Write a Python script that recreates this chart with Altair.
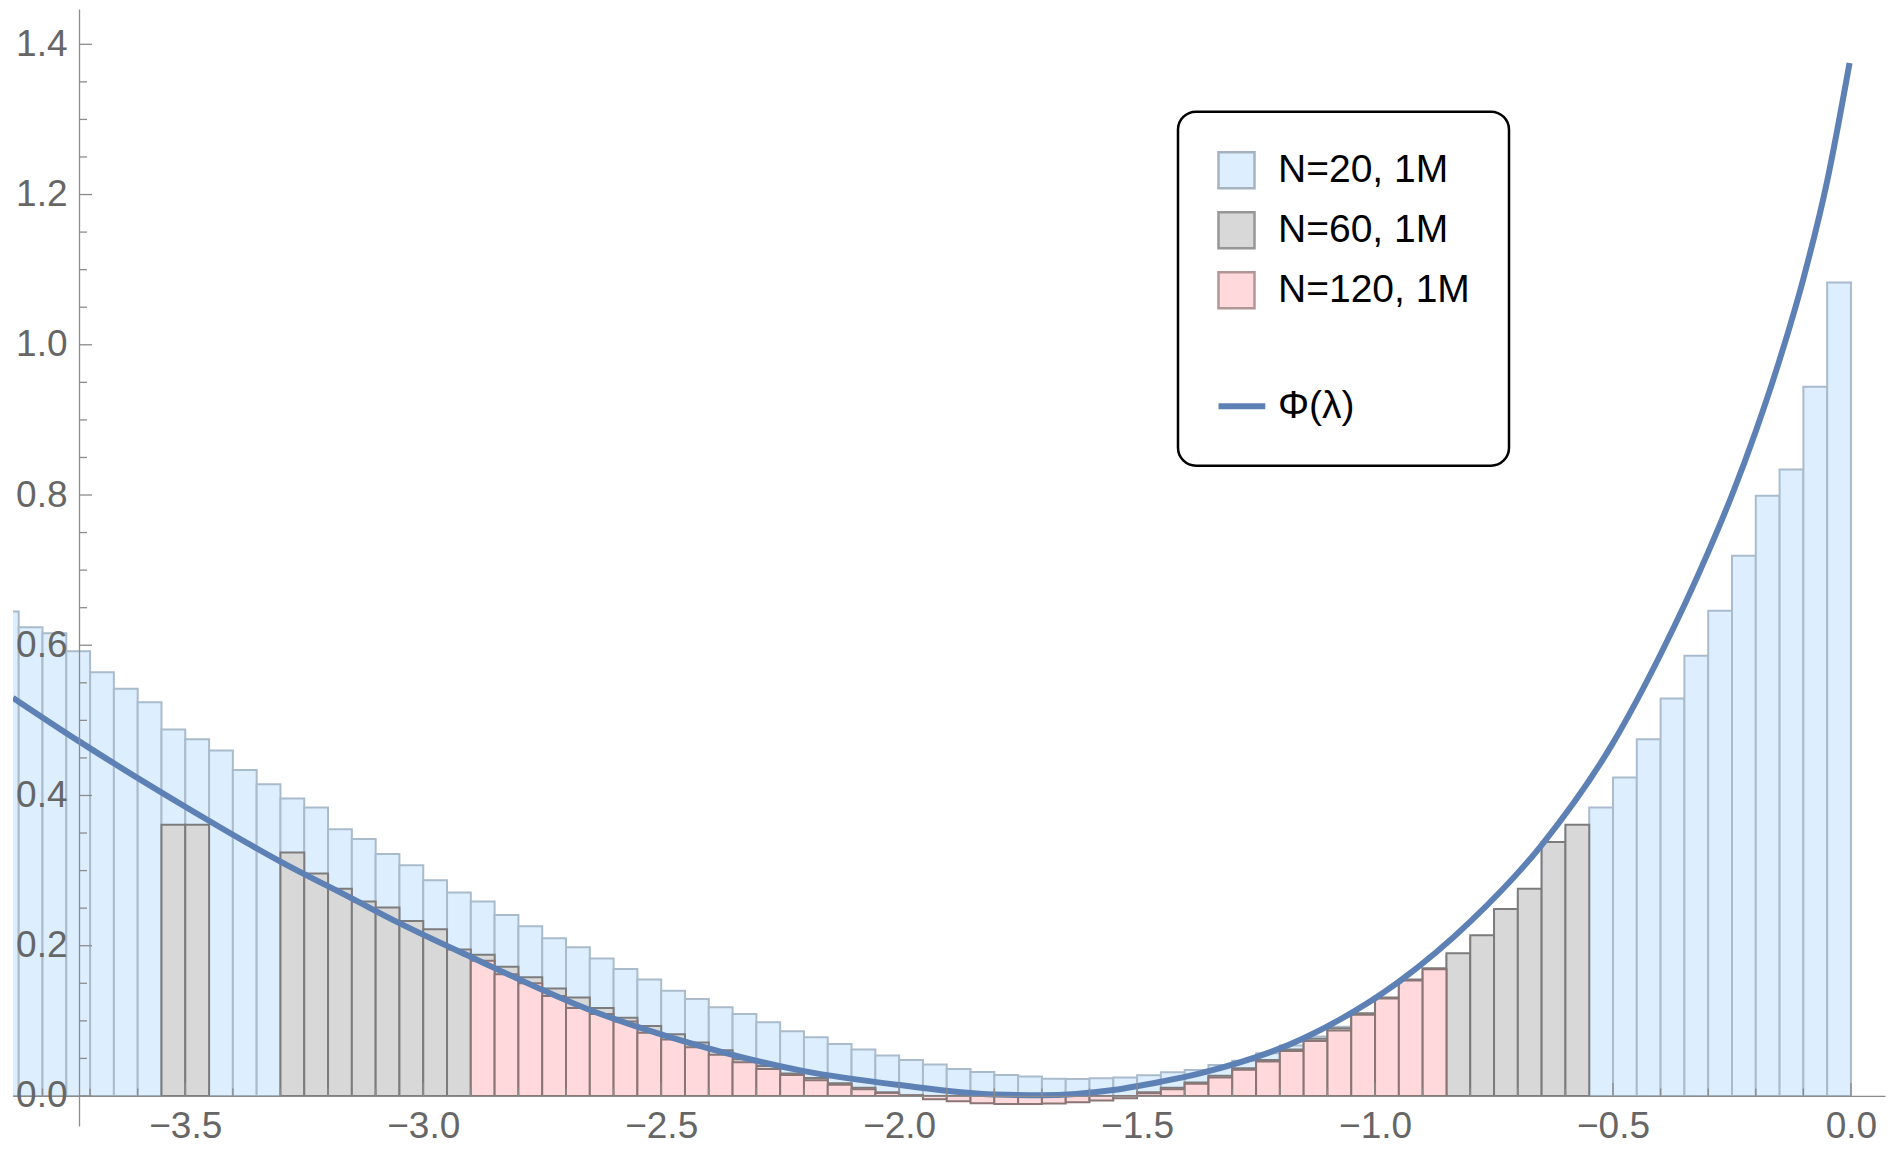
import altair as alt
import pandas as pd

FONT = "Liberation Sans"

# ---- histogram data (bin width 0.05, first bin starts at -3.90) ----
BIN_START = -3.90
BIN_W = 0.05

blue_vals = [0.645, 0.624, 0.616, 0.592, 0.564, 0.542, 0.524, 0.488, 0.475, 0.460,
             0.434, 0.415, 0.396, 0.384, 0.355, 0.342, 0.322, 0.307, 0.287, 0.271,
             0.259, 0.241, 0.226, 0.210, 0.198, 0.183, 0.169, 0.155, 0.140, 0.129,
             0.118, 0.109, 0.098, 0.086, 0.078, 0.069, 0.062, 0.054, 0.048, 0.042,
             0.036, 0.032, 0.028, 0.026, 0.023, 0.0226, 0.0235, 0.0244, 0.0275, 0.0315,
             0.0346, 0.0413, 0.047, 0.057, 0.067, 0.079, 0.092, 0.104, 0.125, 0.148,
             0.165, 0.186, 0.210, 0.244, 0.272, 0.334, 0.357, 0.384, 0.424, 0.475,
             0.529, 0.586, 0.646, 0.719, 0.799, 0.834, 0.944, 1.083]

grey_vals = [None] * 7 + [0.361, 0.361] + [None] * 3 + [
    0.324, 0.296, 0.276, 0.259, 0.251, 0.233, 0.222, 0.195, 0.188, 0.172,
    0.158, 0.143, 0.131, 0.117, 0.104, 0.093, 0.082, 0.071, 0.061, 0.049,
    0.040, 0.030, 0.024, 0.017, 0.011, 0.005, 0.001, -0.002, -0.004, -0.006,
    -0.007, -0.007, -0.006, -0.005, -0.003, 0.000, 0.005, 0.011, 0.018, 0.027,
    0.037, 0.048, 0.062, 0.076, 0.090, 0.110, 0.131, 0.155, 0.170, 0.190,
    0.214, 0.249, 0.276, 0.338, 0.361] + [None] * 11

pink_vals = [None] * 20 + [
    0.180, 0.162, 0.150, 0.133, 0.117, 0.109, 0.099, 0.084, 0.075, 0.065,
    0.055, 0.045, 0.036, 0.028, 0.021, 0.015, 0.009, 0.004, 0.0005, -0.0044,
    -0.007, -0.0098, -0.0107, -0.0107, -0.010, -0.0084, -0.0062, -0.003, 0.0036, 0.009,
    0.0164, 0.0244, 0.035, 0.0457, 0.060, 0.0732, 0.087, 0.108, 0.1296, 0.1536,
    0.1687] + [None] * 17

# ---- curve Phi(lambda), points ----
curve_x = [-3.862, -3.723, -3.500, -3.300, -3.150, -3.050, -2.900, -2.650, -2.450,
           -2.200, -2.000, -1.800, -1.700, -1.550, -1.450, -1.368, -1.150, -0.950,
           -0.800, -0.650, -0.500, -0.400, -0.300, -0.250, -0.200, -0.150, -0.100,
           -0.050, -0.003]
curve_y = [0.530, 0.472, 0.385, 0.312, 0.263, 0.230, 0.185, 0.1145, 0.0723,
           0.033, 0.0146, 0.0020, 0.0010, 0.008, 0.019, 0.030, 0.0768, 0.152,
           0.232, 0.334, 0.470, 0.588, 0.724, 0.800, 0.885, 0.980, 1.088,
           1.218, 1.375]

# ---- ticks ----
x_major = [-3.5, -3.0, -2.5, -2.0, -1.5, -1.0, -0.5, 0.0]
x_minor = [-3.8, -3.7, -3.6, -3.4, -3.3, -3.2, -3.1, -2.9, -2.8, -2.7, -2.6, -2.4,
           -2.3, -2.2, -2.1, -1.9, -1.8, -1.7, -1.6, -1.4, -1.3, -1.2, -1.1, -0.9,
           -0.8, -0.7, -0.6, -0.4, -0.3, -0.2, -0.1]
y_major = [0.0, 0.2, 0.4, 0.6, 0.8, 1.0, 1.2, 1.4]
y_minor = [0.05, 0.1, 0.15, 0.25, 0.3, 0.35, 0.45, 0.5, 0.55, 0.65, 0.7, 0.75,
           0.85, 0.9, 0.95, 1.05, 1.1, 1.15, 1.25, 1.3, 1.35]

legend_names = ["N=20, 1M", "N=60, 1M", "N=120, 1M", " ", "Φ(λ)"]
legend_fill = ["#DDEEFF", "#D8D8D8", "#FFD9DB", "rgba(0,0,0,0)", "rgba(0,0,0,0)"]
legend_stroke = ["#A6B2BE", "#969696", "#B09696", "rgba(0,0,0,0)", "#5E81B5"]

# ---- layout ----
W, H = 1872, 1117
XMIN, XMAX = -3.862, 0.0715
YMIN, YMAX = -0.040, 1.447
AXIS_X = -3.7233
off_y_axis = -(AXIS_X - XMIN) / (XMAX - XMIN) * W
off_x_axis = -(0 - YMIN) / (YMAX - YMIN) * H
AX = "#8c8c8c"


def hist_df(vals):
    rows = []
    for i, v in enumerate(vals):
        if v is None:
            continue
        x0 = round(BIN_START + i * BIN_W, 3)
        rows.append({"x0": x0, "x1": round(x0 + BIN_W, 3), "v": v})
    return pd.DataFrame(rows)


xs = alt.Scale(domain=[XMIN, XMAX], nice=False, zero=False)
ys = alt.Scale(domain=[YMIN, YMAX], nice=False, zero=False)

xaxis = alt.Axis(values=x_major, format=".1f", labelFontSize=37, labelFont=FONT,
                 labelColor="#666666", domainColor=AX, domainWidth=1.3, ticks=False,
                 tickSize=0, grid=False, offset=off_x_axis, labelPadding=13, title=None,
                 labelFlush=False, labelOverlap=False, zindex=1)
yaxis = alt.Axis(values=y_major, format=".1f", labelFontSize=37, labelFont=FONT,
                 labelColor="#666666", domainColor=AX, domainWidth=1.3, ticks=False,
                 tickSize=0, grid=False, offset=off_y_axis, labelPadding=12, title=None,
                 labelFlush=False, labelOverlap=False, zindex=1)


def bars(vals, fill, stroke):
    return alt.Chart(hist_df(vals)).mark_rect(
        fill=fill, stroke=stroke, strokeWidth=2, clip=True
    ).encode(
        x=alt.X("x0:Q", scale=xs, axis=xaxis),
        x2="x1:Q",
        y=alt.Y("v:Q", scale=ys, axis=yaxis),
        y2=alt.datum(0),
    )


blue = bars(blue_vals, "#DDEEFF", "#AABCCC")
grey = bars(grey_vals, "#D8D8D8", "#7C7C7C")
pink = bars(pink_vals, "#FFD9DB", "#8A7676")

curve = alt.Chart(pd.DataFrame({"x": curve_x, "y": curve_y})).mark_line(
    color="#5E81B5", strokeWidth=6, interpolate="monotone", clip=True
).encode(x=alt.X("x:Q", scale=xs, axis=xaxis), y=alt.Y("y:Q", scale=ys, axis=yaxis))


def xticks(vals, size):
    return alt.Chart(pd.DataFrame({"t": vals})).mark_tick(
        orient="vertical", size=size, thickness=1.3, color=AX, yOffset=-size / 2, opacity=1
    ).encode(
        x=alt.X("t:Q", scale=xs, axis=xaxis),
        y=alt.YDatum(0, type="quantitative", scale=ys, axis=yaxis),
    )


def yticks(vals, size):
    return alt.Chart(pd.DataFrame({"t": vals})).mark_tick(
        orient="horizontal", size=size, thickness=1.3, color=AX, xOffset=size / 2, opacity=1
    ).encode(
        y=alt.Y("t:Q", scale=ys, axis=yaxis),
        x=alt.XDatum(AXIS_X, type="quantitative", scale=xs, axis=xaxis),
    )


IS_PHI = "datum.value === 'Φ(λ)'"
LEG = alt.Legend(
    title=None, orient="none", legendX=1165, legendY=102.7, padding=39,
    cornerRadius=18, strokeColor="black", fillColor="white",
    labelFont=FONT, labelFontSize=39, labelColor="black", labelLimit=600,
    labelOffset=22, symbolSize=1296,
    symbolType={"expr": IS_PHI + " ? 'M-1,0H1.6' : 'square'"},
    symbolStrokeWidth={"expr": IS_PHI + " ? 6 : 2.5"},
    rowPadding=13, zindex=2,
)

legend_layer = alt.Chart(pd.DataFrame({"series": legend_names})).mark_point(
    filled=True, opacity=1
).encode(
    fill=alt.Fill("series:N", scale=alt.Scale(domain=legend_names, range=legend_fill), legend=LEG),
    stroke=alt.Stroke("series:N", scale=alt.Scale(domain=legend_names, range=legend_stroke), legend=LEG),
).transform_filter("false")

chart = alt.layer(
    blue, grey, pink, curve,
    xticks(x_major, 13), xticks(x_minor, 7.5),
    yticks(y_major, 13), yticks(y_minor, 8),
    legend_layer,
).properties(
    width=W, height=H, autosize="none",
    padding={"left": 5, "top": 1, "right": 2, "bottom": 23},
    background="white",
).configure_view(stroke=None).configure_legend(strokeWidth=2.5)

chart.save("out.html", embed_options={"renderer": "svg", "actions": False})
